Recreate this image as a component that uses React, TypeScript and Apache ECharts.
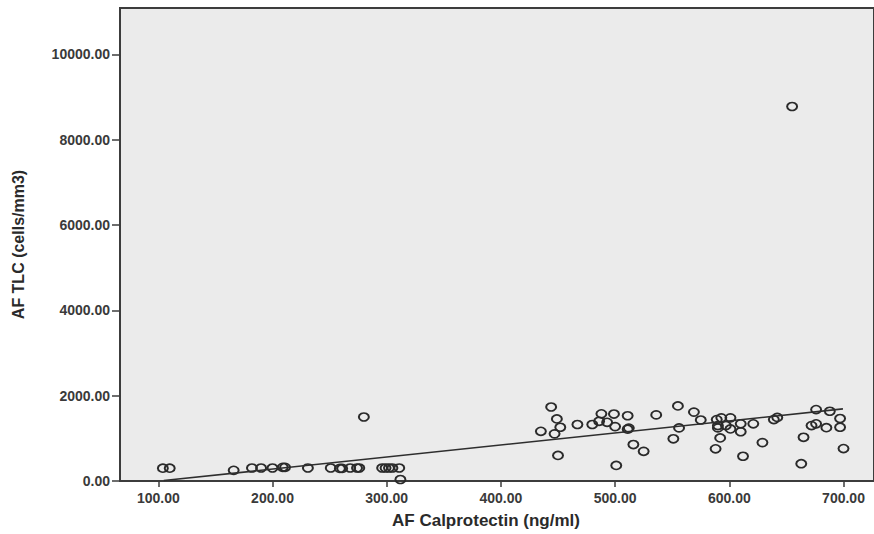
import React, { useEffect, useRef } from "react";
import * as echarts from "echarts";

// AF Calprotectin (ng/ml)
const calprotectin = [
  104, 110, 166, 182, 190, 200, 209, 211, 231, 251, 259, 261, 268, 274, 276, 280,
  296, 299, 302, 305, 311, 312,
  435, 444, 447, 449, 450, 452, 467, 480, 486, 488, 493, 499, 500, 501, 511, 511,
  512, 516, 525, 536, 551, 555, 556, 569, 575, 588, 589, 590, 590, 592, 593, 597,
  601, 601, 610, 610, 612, 621, 629, 639, 642, 655, 663, 665, 672, 676, 676, 685,
  688, 697, 697, 700,
];
// AF TLC (cells/mm3)
const tlc = [
  300, 300, 250, 305, 305, 305, 320, 320, 305, 305, 295, 295, 305, 305, 305, 1500,
  305, 305, 305, 305, 305, 35,
  1165, 1735, 1105, 1455, 600, 1260, 1325, 1325, 1400, 1575, 1375, 1570, 1275, 365, 1530, 1215,
  1240, 855, 695, 1550, 990, 1760, 1245, 1615, 1430, 755, 1440, 1300, 1245, 1010, 1480, 1300,
  1480, 1220, 1340, 1155, 580, 1340, 900, 1440, 1490, 8780, 405, 1025, 1300, 1340, 1675, 1250,
  1635, 1465, 1260, 760,
];
// Fit line end points
const fitX = [104.8, 699.5];
const fitY = [10, 1690];

const xTicks = [100, 200, 300, 400, 500, 600, 700];
const yTicks = [0, 2000, 4000, 6000, 8000, 10000];

export default function App() {
  const ref = useRef<HTMLDivElement>(null);
  useEffect(() => {
    const chart = echarts.init(ref.current!, null, { renderer: "svg" });
    const font = "'Liberation Sans', Arial, sans-serif";
    chart.setOption({
      animation: false,
      backgroundColor: "#ffffff",
      grid: {
        left: 120,
        top: 8,
        right: -4,
        bottom: 52.5,
        show: true,
        backgroundColor: "#ebebeb",
        borderColor: "#3c3c3c",
        borderWidth: 2,
      },
      xAxis: {
        type: "value",
        min: 66.46,
        max: 726.7,
        name: "AF Calprotectin (ng/ml)",
        nameLocation: "middle",
        nameGap: 31,
        nameTextStyle: {
          fontFamily: font,
          fontSize: 17,
          fontWeight: "bold",
          color: "#2a2a2a",
          padding: [0, 22, 0, 0],
        },
        splitLine: { show: false },
        axisLine: { show: true, lineStyle: { color: "#3c3c3c", width: 2 } },
        axisTick: {
          show: true,
          length: 6,
          customValues: xTicks,
          lineStyle: { color: "#3c3c3c", width: 1.5 },
        },
        axisLabel: {
          customValues: xTicks,
          margin: 10,
          fontFamily: font,
          fontSize: 14,
          fontWeight: "bold",
          color: "#3a3a3a",
          formatter: (v: number) => v.toFixed(2),
        },
      },
      yAxis: {
        type: "value",
        min: 0,
        max: 11089,
        name: "AF TLC (cells/mm3)",
        nameLocation: "middle",
        nameRotate: 90,
        nameGap: 94,
        nameTextStyle: {
          fontFamily: font,
          fontSize: 16,
          fontWeight: "bold",
          color: "#2a2a2a",
        },
        splitLine: { show: false },
        axisLine: { show: true, lineStyle: { color: "#3c3c3c", width: 2 } },
        axisTick: {
          show: true,
          length: 8,
          customValues: yTicks,
          lineStyle: { color: "#3c3c3c", width: 1.5 },
        },
        axisLabel: {
          customValues: yTicks,
          margin: 10,
          fontFamily: font,
          fontSize: 14,
          fontWeight: "bold",
          color: "#3a3a3a",
          formatter: (v: number) => v.toFixed(2),
        },
      },
      series: [
        {
          type: "line",
          data: fitX.map((x, i) => [x, fitY[i]]),
          showSymbol: false,
          symbol: "none",
          lineStyle: { color: "#2e2e2e", width: 1.6 },
          silent: true,
          z: 3,
        },
        {
          type: "scatter",
          data: calprotectin.map((x, i) => [x, tlc[i]]),
          symbol: "circle",
          symbolSize: [10, 8],
          itemStyle: {
            color: "rgba(0,0,0,0)",
            borderColor: "#2a2a2a",
            borderWidth: 1.8,
            opacity: 1,
          },
          z: 2,
        },
      ],
    });
    return () => chart.dispose();
  }, []);
  return (
    <div
      ref={ref}
      style={{ position: "fixed", left: 0, top: 0, width: 874, height: 534 }}
    />
  );
}
